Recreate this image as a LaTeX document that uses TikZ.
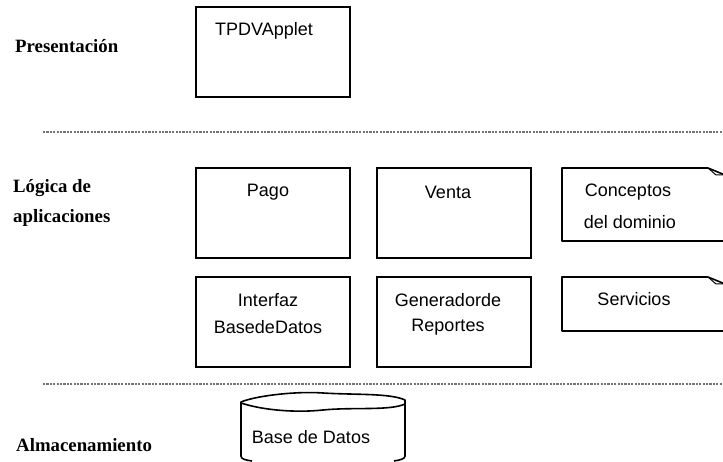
\documentclass[tikz,border=0pt]{standalone}
\usepackage{fontspec}
\setmainfont{Liberation Serif}
\setsansfont{Liberation Sans}
\begin{document}
\begin{tikzpicture}[x=1pt,y=-1pt,
  box/.style={draw=black,line width=1.6pt,fill=white,minimum width=154pt,minimum height=90pt,inner sep=0pt},
  sep/.style={draw=black!55,line width=2pt,dash pattern=on 2.2pt off 1.2pt},
  layer/.style={font=\fontsize{18.8}{22}\selectfont\bfseries,anchor=west,inner sep=0pt},
  txt/.style={font=\sffamily\fontsize{18}{22}\selectfont,inner sep=0pt},
  stroke/.style={draw=black,line width=1.6pt,line join=round}]
\useasboundingbox (0,0) rectangle (723,462);

% layer labels
\node[layer] (lp) at (15,46) {Presentación};
\node[layer] (lg1) at (13,188) {Lógica de};
\node[layer] (lg2) at (13,218) {aplicaciones};
\node[layer] (la) at (16,445) {Almacenamiento};

% separators
\coordinate (s1a) at (43,132); \coordinate (s1b) at (723,132);
\coordinate (s2a) at (43,384); \coordinate (s2b) at (723,384);
\draw[sep] (s1a) -- (s1b);
\draw[sep] (s2a) -- (s2b);

% boxes
\node[box] (tpdv) at (273,52) {};
\node[txt] (tpdvt) at (264,31) {TPDVApplet};
\node[box] (pago) at (273,213) {};
\node[txt] (pagot) at (268,192) {Pago};
\node[box] (venta) at (454,213) {};
\node[txt] (ventat) at (448,192) {Venta};
\node[box] (ibd) at (273,322) {};
\node[txt] (ibdt1) at (268,300) {Interfaz};
\node[txt] (ibdt2) at (268,327) {BasedeDatos};
\node[box] (gen) at (454,322) {};
\node[txt] (gent1) at (448,300) {Generadorde};
\node[txt] (gent2) at (448,327) {Reportes};

% packages with folded corner (cut at right edge)
\coordinate (c1) at (708,168);
\draw[stroke] (c1) -- (562,168) -- (562,241) -- (725,241);
\draw[stroke] (c1) -- (725,175);
\draw[black,line width=1pt] (c1) -- (716,175) -- (725,175);
\node[txt] (cdt1) at (628,192) {Conceptos};
\node[txt] (cdt2) at (630,222) {del dominio};

\coordinate (c2) at (708,277);
\draw[stroke] (c2) -- (562,277) -- (562,331) -- (725,331);
\draw[stroke] (c2) -- (725,284);
\draw[black,line width=1pt] (c2) -- (716,284) -- (725,284);
\node[txt] (servt) at (634,299) {Servicios};

% database cylinder
\draw[stroke] (252,461) .. controls (245,460) and (241,459) .. (241,456) -- (241,402)
  .. controls (255,396) and (295,391) .. (323,393)
  .. controls (355,395) and (390,393) .. (405,400) -- (405,456)
  .. controls (405,459) and (400,460) .. (394,461);
\draw[stroke] (241,403) .. controls (262,410) and (295,413) .. (323,410)
  .. controls (352,407) and (390,411) .. (405,404);
\node[txt] (dbt) at (311,437) {Base de Datos};
\end{tikzpicture}
\end{document}
